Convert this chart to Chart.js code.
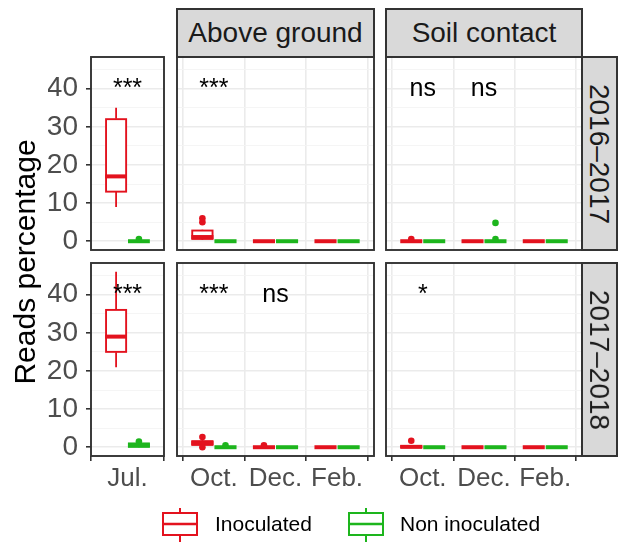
<!DOCTYPE html>
<html><head><meta charset="utf-8">
<script src="https://cdn.jsdelivr.net/npm/chart.js@4.4.0/dist/chart.umd.min.js"></script>
<style>
 body{margin:0;background:#fff;}
 #wrap{position:relative;width:619px;height:543px;overflow:hidden;background:#fff;font-family:"Liberation Sans",Arial,sans-serif;}
 #wrap canvas{position:absolute;}
 .strip{position:absolute;box-sizing:border-box;background:#D9D9D9;border:2px solid #333;color:#1A1A1A;font-size:28px;display:flex;align-items:center;justify-content:center;white-space:nowrap;}
 .strip span{display:inline-block;white-space:nowrap;}
 .vert span{transform:rotate(90deg);}
 .ytitle{position:absolute;width:320px;height:34px;line-height:34px;text-align:center;font-size:30px;color:#000;transform:rotate(-90deg);white-space:nowrap;}
 .legtxt{position:absolute;font-size:21px;color:#000;line-height:24px;white-space:nowrap;}
 .legico{position:absolute;}
</style></head>
<body><div id="wrap"></div>
<script>
// ---------- categories / labels ----------
const julyLabels = ['Jul.'];
const monthLabels = ['Oct.', 'Dec.', 'Feb.'];
const yearLabels = ['2016–2017', '2017–2018'];
const siteLabels = ['Above ground', 'Soil contact'];
const groupLabels = ['Inoculated', 'Non inoculated'];
const yTicks = [0, 10, 20, 30, 40];
const yMinor = [5, 15, 25, 35, 45];
const sigLevel = 40;

// ---------- box statistics: [lower whisker, Q1, median, Q3, upper whisker] ----------
// 2016–2017
const jul1617Inoc = [[9, 13, 17, 32, 35]];
const jul1617Non = [[0, 0, 0, 0, 0]];
const above1617Inoc = [[0.3, 0.6, 1.1, 2.8, 3.0], [0, 0, 0, 0, 0], [0, 0, 0, 0, 0]];
const above1617Non = [[0, 0, 0, 0, 0], [0, 0, 0, 0, 0], [0, 0, 0, 0, 0]];
const soil1617Inoc = [[0, 0, 0, 0, 0], [0, 0, 0, 0, 0], [0, 0, 0, 0, 0]];
const soil1617Non = [[0, 0, 0, 0, 0], [0, 0, 0, 0, 0], [0, 0, 0, 0, 0]];
// 2017–2018
const jul1718Inoc = [[21, 25, 29, 36, 46]];
const jul1718Non = [[0, 0.1, 0.5, 1.0, 1.1]];
const above1718Inoc = [[0.1, 0.6, 1.1, 1.6, 2.0], [0, 0, 0, 0, 0], [0, 0, 0, 0, 0]];
const above1718Non = [[0, 0, 0, 0, 0], [0, 0, 0, 0, 0], [0, 0, 0, 0, 0]];
const soil1718Inoc = [[0, 0, 0.1, 0.3, 0.5], [0, 0, 0, 0, 0], [0, 0, 0, 0, 0]];
const soil1718Non = [[0, 0, 0, 0, 0], [0, 0, 0, 0, 0], [0, 0, 0, 0, 0]];

// ---------- outliers ----------
const jul1617InocOut = [[]];
const jul1617NonOut = [[0.6]];
const above1617InocOut = [[5.0, 6.0], [], []];
const above1617NonOut = [[], [], []];
const soil1617InocOut = [[0.6], [], []];
const soil1617NonOut = [[], [0.6, 4.8], []];
const jul1718InocOut = [[]];
const jul1718NonOut = [[1.5]];
const above1718InocOut = [[0, 2.7], [0.5], []];
const above1718NonOut = [[0.5], [], []];
const soil1718InocOut = [[1.7], [], []];
const soil1718NonOut = [[], [], []];

// ---------- significance labels ----------
const sigJul1617 = ['***'];
const sigAbove1617 = ['***', '', ''];
const sigSoil1617 = ['ns', 'ns', ''];
const sigJul1718 = ['***'];
const sigAbove1718 = ['***', 'ns', ''];
const sigSoil1718 = ['*', '', ''];

// ---------- style ----------
const RED = '#E3121E';
const GREEN = '#1DB51D';
const FONT = '"Liberation Sans", Arial, sans-serif';
Chart.defaults.font.family = FONT;

const cols = [[91, 164], [177, 374], [386, 582]];
const rows = [[57, 250], [263, 456]];
const P = 8, YW = 43, XH = 40;
const DODGE = 0.1875, BOXW = 0.33;

const wrap = document.getElementById('wrap');

const ggPlugin = {
  id: 'ggbox',
  beforeDatasetsDraw(chart) {
    const { ctx, scales: { x, y } } = chart;
    chart.data.datasets.forEach(ds => {
      if (!ds.stats) return;
      ctx.save();
      ctx.strokeStyle = ds.lineColor; ctx.lineWidth = 1.8; ctx.lineCap = 'butt';
      ds.stats.forEach((s, i) => {
        const px = x.getPixelForValue(ds.data[i].x);
        ctx.beginPath();
        ctx.moveTo(px, y.getPixelForValue(s[0])); ctx.lineTo(px, y.getPixelForValue(s[1]));
        ctx.moveTo(px, y.getPixelForValue(s[3])); ctx.lineTo(px, y.getPixelForValue(s[4]));
        ctx.stroke();
      });
      ctx.restore();
    });
  },
  afterDatasetDraw(chart, args) {
    const ds = chart.data.datasets[args.index];
    if (!ds.stats) return;
    const { ctx, scales: { y } } = chart;
    ctx.save();
    ctx.strokeStyle = ds.lineColor;
    args.meta.data.forEach((el, i) => {
      const s = ds.stats[i];
      const p = el.getProps(['x', 'width'], true);
      const x0 = p.x - p.width / 2, x1 = p.x + p.width / 2;
      const yq1 = y.getPixelForValue(s[1]), yq3 = y.getPixelForValue(s[3]);
      ctx.lineWidth = 1.9;
      ctx.strokeRect(x0, yq3, x1 - x0, yq1 - yq3);
      ctx.lineWidth = 4;
      ctx.beginPath();
      const ym = y.getPixelForValue(s[2]);
      ctx.moveTo(x0 - 0.9, ym); ctx.lineTo(x1 + 0.9, ym);
      ctx.stroke();
    });
    ctx.restore();
  },
  afterDraw(chart) {
    const { ctx, chartArea: a, scales: { x, y } } = chart;
    const sig = chart.options.plugins.ggbox.sig;
    ctx.save();
    ctx.fillStyle = '#000';
    ctx.font = '25px ' + FONT;
    ctx.textAlign = 'center'; ctx.textBaseline = 'middle';
    sig.forEach((t, i) => { if (t) ctx.fillText(t, x.getPixelForValue(i + 1), y.getPixelForValue(sigLevel)); });
    ctx.strokeStyle = '#333'; ctx.lineWidth = 1.9;
    ctx.strokeRect(a.left, a.top, a.right - a.left, a.bottom - a.top);
    ctx.restore();
  }
};

function makePanel(r, c, labels, inoc, non, inocOut, nonOut, sig) {
  const [L, R] = cols[c], [T, B] = rows[r];
  const showY = c === 0, showX = r === 1;
  const n = labels.length;
  const unit = (R - L) / (n + 0.2);
  const bw = unit * BOXW;
  const left = L - P - (showY ? YW : 0), top = T - P;
  const w = (R - L) + 2 * P + (showY ? YW : 0);
  const h = (B - T) + 2 * P + (showX ? XH : 0);
  const cv = document.createElement('canvas');
  cv.width = w; cv.height = h;
  cv.style.left = left + 'px'; cv.style.top = top + 'px';
  cv.style.width = w + 'px'; cv.style.height = h + 'px';
  wrap.appendChild(cv);
  const outPts = (arr, off) => arr.flatMap((vals, i) => vals.map(v => ({ x: i + 1 + off, y: v })));
  const boxDs = (stats, off, col, lab) => ({
    type: 'bar', label: lab, order: 1, grouped: false,
    data: stats.map((s, i) => ({ x: i + 1 + off, y: [s[1], s[3]] })),
    stats: stats, lineColor: col,
    backgroundColor: '#ffffff', borderWidth: 0, barThickness: bw
  });
  const outDs = (arr, off, col, lab) => ({
    type: 'scatter', label: lab + ' outliers', order: 0,
    data: outPts(arr, off), pointRadius: 3.3, pointBackgroundColor: col, pointBorderWidth: 0, showLine: false
  });
  new Chart(cv, {
    type: 'bar',
    data: {
      datasets: [
        outDs(inocOut, -DODGE, RED, groupLabels[0]),
        outDs(nonOut, DODGE, GREEN, groupLabels[1]),
        boxDs(inoc, -DODGE, RED, groupLabels[0]),
        boxDs(non, DODGE, GREEN, groupLabels[1])
      ]
    },
    options: {
      animation: false, responsive: false, maintainAspectRatio: false, devicePixelRatio: 1,
      layout: { padding: { left: P, right: P, top: P, bottom: P } },
      plugins: { legend: { display: false }, tooltip: { enabled: false }, ggbox: { sig: sig } },
      scales: {
        x: {
          type: 'linear', min: 0.4, max: n + 0.6, offset: false,
          afterBuildTicks: s => { s.ticks = labels.map((_, i) => ({ value: i + 1 })); },
          afterFit: s => { s.height = showX ? XH : 0; s.paddingLeft = 0; s.paddingRight = 0; },
          border: { display: false },
          grid: { color: '#EBEBEB', lineWidth: 1.6, drawTicks: showX, tickLength: 5, tickColor: '#333', tickWidth: 1.6 },
          ticks: { display: showX, autoSkip: false, maxRotation: 0, padding: 2, color: '#4D4D4D', font: { size: 26 },
            callback: v => labels[Math.round(v) - 1] }
        },
        y: {
          type: 'linear', min: -2.3, max: 48.3,
          afterBuildTicks: s => { s.ticks = yTicks.concat(yMinor).sort((a, b) => a - b).map(v => ({ value: v })); },
          afterFit: s => { s.width = showY ? YW : 0; s.paddingTop = 0; s.paddingBottom = 0; },
          border: { display: false },
          grid: {
            color: ctx => yTicks.includes(ctx.tick.value) ? '#EBEBEB' : '#F4F4F4',
            lineWidth: ctx => yTicks.includes(ctx.tick.value) ? 1.6 : 0.9,
            drawTicks: showY, tickLength: 5,
            tickColor: ctx => yTicks.includes(ctx.tick.value) ? '#333' : 'rgba(0,0,0,0)', tickWidth: 1.6
          },
          ticks: { display: showY, autoSkip: false, padding: 8, color: '#4D4D4D', font: { size: 28 },
            callback: v => yTicks.includes(v) ? String(v) : '' }
        }
      }
    },
    plugins: [ggPlugin]
  });
}

makePanel(0, 0, julyLabels, jul1617Inoc, jul1617Non, jul1617InocOut, jul1617NonOut, sigJul1617);
makePanel(0, 1, monthLabels, above1617Inoc, above1617Non, above1617InocOut, above1617NonOut, sigAbove1617);
makePanel(0, 2, monthLabels, soil1617Inoc, soil1617Non, soil1617InocOut, soil1617NonOut, sigSoil1617);
makePanel(1, 0, julyLabels, jul1718Inoc, jul1718Non, jul1718InocOut, jul1718NonOut, sigJul1718);
makePanel(1, 1, monthLabels, above1718Inoc, above1718Non, above1718InocOut, above1718NonOut, sigAbove1718);
makePanel(1, 2, monthLabels, soil1718Inoc, soil1718Non, soil1718InocOut, soil1718NonOut, sigSoil1718);

// ---------- strips ----------
function addDiv(cls, css, html) {
  const d = document.createElement('div');
  d.className = cls; d.style.cssText = css; d.innerHTML = html;
  wrap.appendChild(d); return d;
}
siteLabels.forEach((t, i) => {
  const [L, R] = cols[i + 1];
  addDiv('strip', `left:${L - 1}px;top:8px;width:${R - L + 2}px;height:50px;`, `<span>${t}</span>`);
});
yearLabels.forEach((t, i) => {
  const [T, B] = rows[i];
  addDiv('strip vert', `left:581px;top:${T - 1}px;width:37px;height:${B - T + 2}px;`, `<span>${t}</span>`);
});
addDiv('ytitle', `left:${25 - 160}px;top:${262 - 17}px;`, 'Reads percentage');

// ---------- legend ----------
function legIcon(x, col) {
  const svg = `<svg width="40" height="40" xmlns="http://www.w3.org/2000/svg">
   <line x1="20" y1="3" x2="20" y2="8" stroke="${col}" stroke-width="2"/>
   <line x1="20" y1="30" x2="20" y2="37" stroke="${col}" stroke-width="2"/>
   <rect x="3" y="8" width="34" height="22" fill="#fff" stroke="${col}" stroke-width="2"/>
   <line x1="3" y1="19" x2="37" y2="19" stroke="${col}" stroke-width="2.4"/></svg>`;
  addDiv('legico', `left:${x}px;top:505px;width:40px;height:40px;`, svg);
}
legIcon(160, RED);
addDiv('legtxt', 'left:215px;top:512px;', groupLabels[0]);
legIcon(346, GREEN);
addDiv('legtxt', 'left:400px;top:512px;', groupLabels[1]);
</script>
</body></html>
